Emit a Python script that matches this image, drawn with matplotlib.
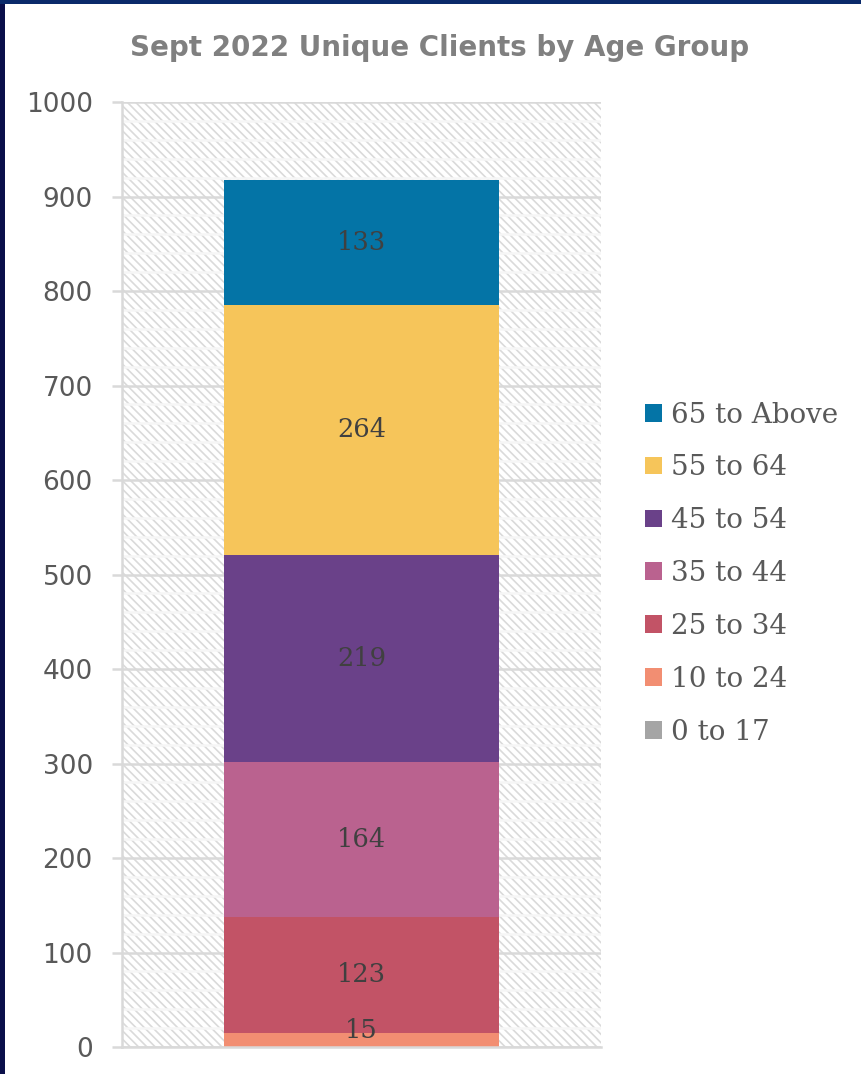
import matplotlib.pyplot as plt
from matplotlib.patches import Rectangle
import numpy as np

# data (bottom to top of the stack)
groups = ['0 to 17', '10 to 24', '25 to 34', '35 to 44', '45 to 54', '55 to 64', '65 to Above']
counts = [0, 15, 123, 164, 219, 264, 133]
colors = ['#A5A5A5', '#F28E72', '#C25366', '#BA628F', '#6A4189', '#F6C55A', '#0474A6']
title = 'Sept 2022 Unique Clients by Age Group'

plt.rcParams['hatch.linewidth'] = 1.2
plt.rcParams['hatch.color'] = '#dadada'

fig = plt.figure(figsize=(8.61, 10.74), dpi=100)
fig.patch.set_facecolor('white')
ax = fig.add_axes([0.1417, 0.0251, 0.5566, 0.8799])

# hatched plot background
ax.add_patch(Rectangle((0, 0), 1, 1, transform=ax.transAxes, facecolor='white',
                       hatch='\\\\\\\\', edgecolor='#dadada', linewidth=0, zorder=0))

# grid
ax.set_ylim(0, 1000)
ax.set_xlim(-0.5, 0.5)
ax.set_yticks(np.arange(0, 1001, 100))
ax.set_yticks(np.arange(0, 1001, 20), minor=True)
ax.grid(axis='y', which='minor', color='#f6f6f6', linewidth=1.8, zorder=1)
ax.grid(axis='y', which='major', color='#d9d9d9', linewidth=1.8, zorder=1)
ax.set_axisbelow(True)

bottom = 0
handles = []
for g, v, c in zip(groups, counts, colors):
    b = ax.bar(0, v, width=0.574, bottom=bottom, color=c, label=g, zorder=2)
    handles.append(b)
    if v > 0:
        ax.text(0, bottom + v / 2 + (10 if v < 30 else 0), str(v), ha='center', va='center',
                fontsize=18.5, color='#404040', family='DejaVu Serif', zorder=3)
    bottom += v

for s in ['top', 'right']:
    ax.spines[s].set_visible(False)
ax.spines['left'].set_color('#d9d9d9')
ax.spines['left'].set_linewidth(1.8)
ax.spines['bottom'].set_color('#d9d9d9')
ax.spines['bottom'].set_linewidth(1.8)
ax.set_xticks([])
ax.tick_params(axis='y', which='major', length=7, width=1.8, color='#d9d9d9',
               labelsize=19, labelcolor='#595959', pad=14)
ax.tick_params(axis='y', which='minor', length=0)

fig.text(0.511, 0.955, title, ha='center', va='center', fontsize=20,
         fontweight='bold', color='#808080', family='DejaVu Sans')

fig.legend(handles[::-1], groups[::-1], loc='center left', bbox_to_anchor=(0.72, 0.466),
           frameon=False, prop={'family': 'DejaVu Serif', 'size': 20},
           labelcolor='#595959', handlelength=0.6, handleheight=0.6,
           handletextpad=0.35, labelspacing=0.93)

# dark frame strips at the left and top edge
fig.patches.append(Rectangle((0, 0), 0.006, 1, transform=fig.transFigure,
                             facecolor='#0a0f4a', edgecolor='none'))
fig.patches.append(Rectangle((0, 0.9965), 1, 0.0035, transform=fig.transFigure,
                             facecolor='#0a2a6a', edgecolor='none'))

fig.savefig('out.png', dpi=100)
